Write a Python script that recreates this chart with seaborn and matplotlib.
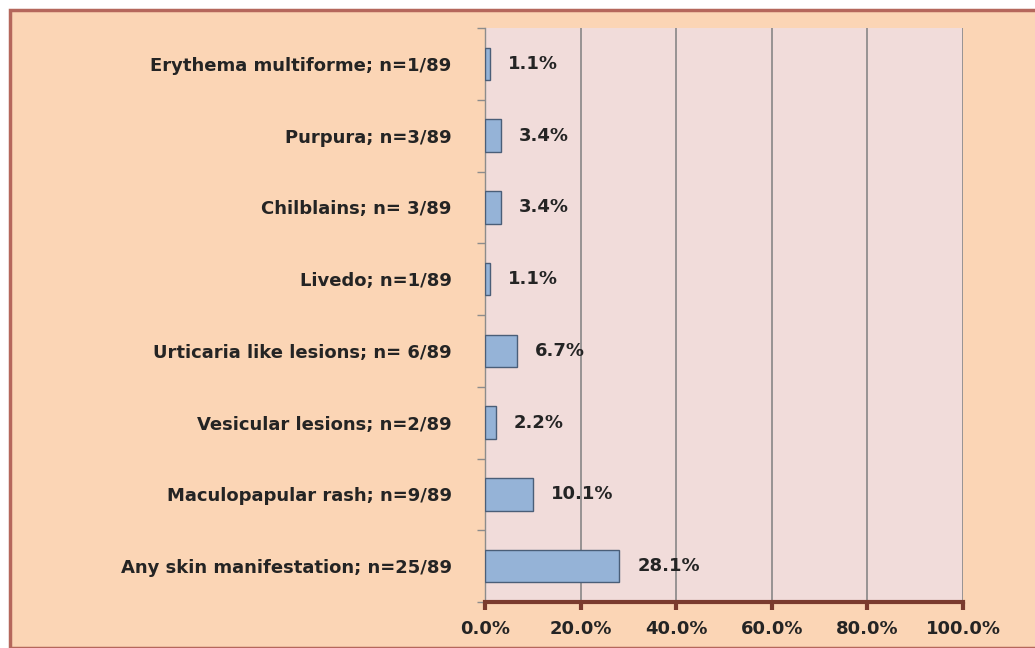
import matplotlib
matplotlib.use("Agg")
import matplotlib.pyplot as plt
import seaborn as sns
import pandas as pd
from matplotlib.patches import Rectangle
from matplotlib.ticker import FixedLocator, PercentFormatter

categories = [
    "Erythema multiforme; n=1/89",
    "Purpura; n=3/89",
    "Chilblains; n= 3/89",
    "Livedo; n=1/89",
    "Urticaria like lesions; n= 6/89",
    "Vesicular lesions; n=2/89",
    "Maculopapular rash; n=9/89",
    "Any skin manifestation; n=25/89",
]
percentages = [1.1, 3.4, 3.4, 1.1, 6.7, 2.2, 10.1, 28.1]
x_ticks = [0, 20, 40, 60, 80, 100]

df = pd.DataFrame({"lesion": categories, "pct": percentages})

sns.set_theme(style="white")
plt.rcParams["font.family"] = ["DejaVu Sans"]

W, H = 1035, 648
FS = 13
TXT = "#242424"
fig = plt.figure(figsize=(W / 100, H / 100), dpi=100)
fig.patch.set_facecolor("white")

# peach chart panel with a brown frame
fig.patches.append(Rectangle((10 / W, 0), 1.2, 1 - 10 / H, transform=fig.transFigure,
                             facecolor="#FBD5B5", edgecolor="#B5675C", linewidth=2.5,
                             zorder=-5))

ax = fig.add_axes([485 / W, 1 - 602 / H, (963 - 485) / W, (602 - 28) / H])
ax.set_zorder(2)
ax.set_facecolor("#F1DCDA")

sns.barplot(data=df, y="lesion", x="pct", orient="h", ax=ax, color="#95B3D7",
            edgecolor="#4A5E78", linewidth=1.0, width=0.45, saturation=1, zorder=3)

ax.set_xlim(0, 100)
ax.set_ylim(len(categories) - 0.5, -0.5)
ax.set_xticks(x_ticks)
ax.xaxis.set_major_formatter(PercentFormatter(decimals=1))
ax.set_xlabel("")
ax.set_ylabel("")

ax.grid(axis="x", color="#7F7F7F", linewidth=1.1, zorder=1)
ax.grid(axis="y", visible=False)

for side in ("top", "right"):
    ax.spines[side].set_visible(False)
ax.spines["left"].set_color("#8C8C8C")
ax.spines["left"].set_linewidth(1.0)
ax.spines["bottom"].set_color("#7A3B2E")
ax.spines["bottom"].set_linewidth(3.0)

ax.tick_params(axis="x", which="major", bottom=True, length=6, width=3, color="#7A3B2E",
               pad=7, labelsize=FS, labelcolor=TXT)
ax.tick_params(axis="y", which="major", left=False, length=0, pad=24, labelsize=FS,
               labelcolor=TXT)
ax.yaxis.set_minor_locator(FixedLocator([i + 0.5 for i in range(-1, len(categories))]))
ax.tick_params(axis="y", which="minor", left=True, length=6, width=1, color="#8C8C8C")
for lab in ax.get_xticklabels() + ax.get_yticklabels():
    lab.set_fontweight("bold")

for i, v in enumerate(percentages):
    ax.annotate(f"{v:.1f}%", xy=(v, i), xytext=(13, 0), textcoords="offset points",
                ha="left", va="center", fontsize=FS, fontweight="bold", color=TXT,
                zorder=4)

fig.savefig("out.png", dpi=100, facecolor=fig.get_facecolor())
